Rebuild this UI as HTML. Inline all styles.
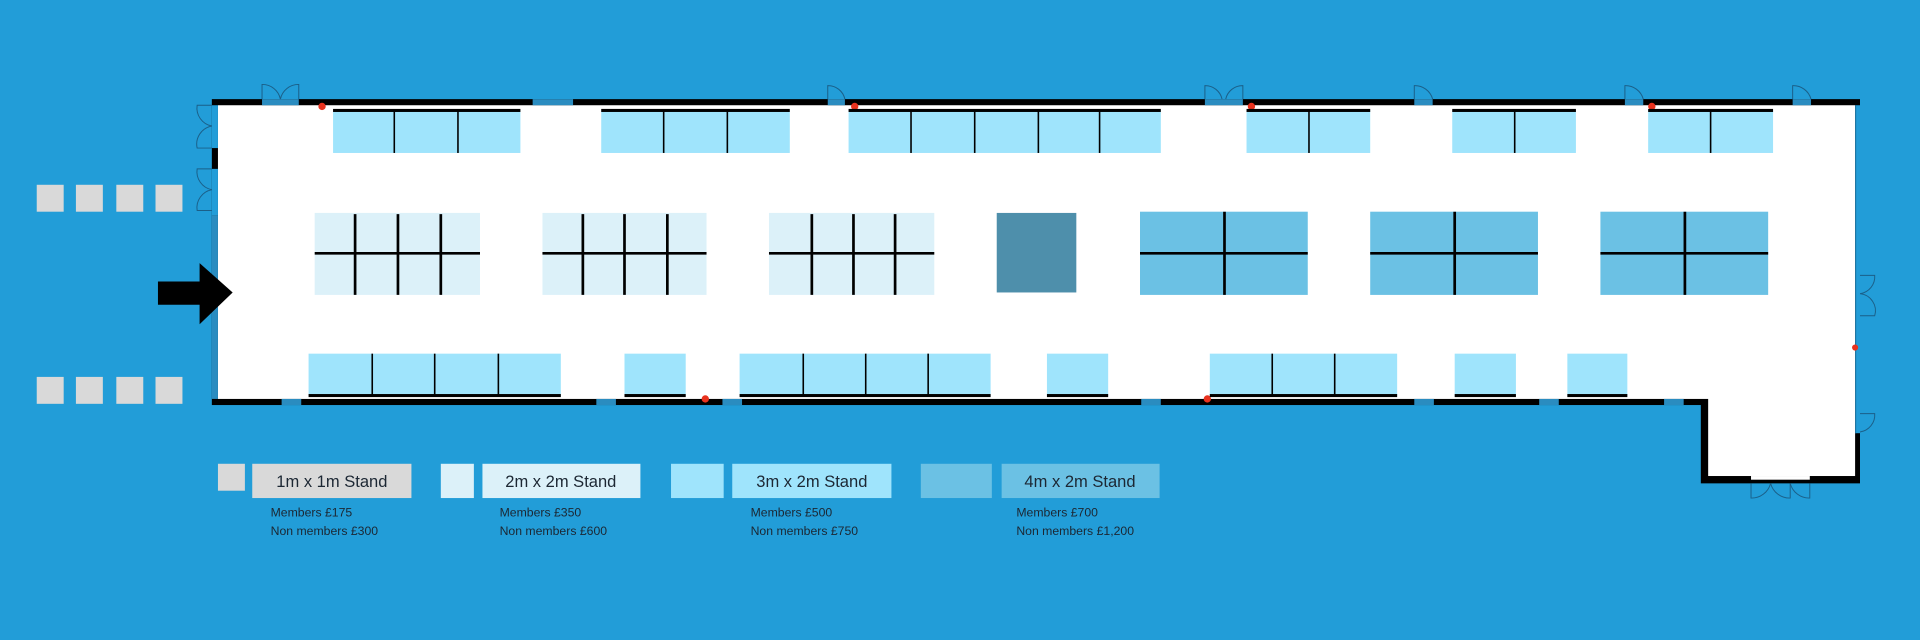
<!DOCTYPE html>
<html><head><meta charset="utf-8"><style>
html,body{margin:0;padding:0;background:#229dd8;}
svg{display:block;}
text{font-family:"Liberation Sans",sans-serif;fill:#1c2733;}
</style></head><body>
<svg width="1920" height="640" viewBox="0 0 1568 523" preserveAspectRatio="none" xmlns="http://www.w3.org/2000/svg">
<rect width="1568" height="523" fill="#229dd8"/>
<g fill="#d9d9d9">
<rect x="30" y="151" width="22" height="22"/><rect x="62" y="151" width="22" height="22"/><rect x="95" y="151" width="22" height="22"/><rect x="127" y="151" width="22" height="22"/>
<rect x="30" y="308" width="22" height="22"/><rect x="62" y="308" width="22" height="22"/><rect x="95" y="308" width="22" height="22"/><rect x="127" y="308" width="22" height="22"/>
</g>
<rect x="173" y="81" width="1346" height="250" fill="#000"/>
<rect x="1389" y="326" width="130" height="69" fill="#000"/>
<rect x="178" y="86" width="1337" height="240" fill="#fff"/>
<rect x="1395" y="320" width="120" height="69" fill="#fff"/>
<rect x="173" y="176" width="5" height="150" fill="#2a8cc0"/>
<rect x="173" y="86" width="5" height="35" fill="#229dd8"/>
<rect x="173" y="138" width="5" height="38" fill="#229dd8"/>
<rect x="1515" y="86" width="4" height="268" fill="#229dd8"/>
<line x1="1515.5" y1="86" x2="1515.5" y2="354" stroke="#1f6f9a" stroke-width="0.7"/>
<g fill="#2a8cc0">
<rect x="214" y="81" width="30" height="5"/><rect x="435" y="81" width="33" height="5"/>
<rect x="676" y="81" width="14" height="5"/><rect x="984" y="81" width="31" height="5"/>
<rect x="1155" y="81" width="15" height="5"/><rect x="1327" y="81" width="15" height="5"/><rect x="1464" y="81" width="15" height="5"/>
<rect x="230" y="326" width="16" height="5"/><rect x="487" y="326" width="16" height="5"/><rect x="590" y="326" width="16" height="5"/>
<rect x="932" y="326" width="16" height="5"/><rect x="1155" y="326" width="16" height="5"/><rect x="1257" y="326" width="16" height="5"/><rect x="1359" y="326" width="16" height="5"/>
</g>
<rect x="1430" y="389" width="48" height="3" fill="#fff"/>
<g fill="none" stroke="#1b5f88" stroke-width="0.8">
<path d="M214,81 V69 A15,15 0 0 1 229,81"/><path d="M244,81 V69 A15,15 0 0 0 229,81"/>
<path d="M676,81 V70 A14,14 0 0 1 690,81"/>
<path d="M984,81 V70 A14,14 0 0 1 998,81"/><path d="M1015,81 V70 A14,14 0 0 0 1001,81"/>
<path d="M1155,81 V70 A15,15 0 0 1 1170,81"/><path d="M1327,81 V70 A15,15 0 0 1 1342,81"/><path d="M1464,81 V70 A15,15 0 0 1 1479,81"/>
<path d="M173,86 H161 A15,15 0 0 0 173,103"/><path d="M173,121 H161 A15,15 0 0 1 173,103"/>
<path d="M173,138 H161 A15,15 0 0 0 173,155"/><path d="M173,172 H161 A15,15 0 0 1 173,155"/>
<path d="M1519,225 H1531 A14,14 0 0 1 1519,240"/><path d="M1519,258 H1531 A14,14 0 0 0 1519,240"/>
<path d="M1519,338 H1531 A14,14 0 0 1 1519,353"/>
<path d="M1430,395 V407 A16,16 0 0 0 1446,395"/><path d="M1462,395 V407 A16,16 0 0 1 1446,395"/><path d="M1478,395 V407 A16,16 0 0 1 1462,395"/>
</g>
<g fill="#e8321e">
<circle cx="263" cy="87" r="3"/><circle cx="698" cy="87" r="3"/><circle cx="1022" cy="87" r="3"/><circle cx="1349" cy="87" r="3"/>
<circle cx="576" cy="326" r="3"/><circle cx="986" cy="326" r="3"/><circle cx="1515" cy="284" r="2.5"/>
</g>
<g fill="#9fe4fc">
<rect x="272" y="90" width="153" height="35"/><rect x="491" y="90" width="154" height="35"/><rect x="693" y="90" width="255" height="35"/>
<rect x="1018" y="90" width="101" height="35"/><rect x="1186" y="90" width="101" height="35"/><rect x="1346" y="90" width="102" height="35"/>
</g>
<g fill="#000">
<rect x="272" y="89" width="153" height="2.5"/><rect x="491" y="89" width="154" height="2.5"/><rect x="693" y="89" width="255" height="2.5"/>
<rect x="1018" y="89" width="101" height="2.5"/><rect x="1186" y="89" width="101" height="2.5"/><rect x="1346" y="89" width="102" height="2.5"/>
</g>
<g stroke="#000" stroke-width="1.3">
<line x1="322" y1="90" x2="322" y2="125"/><line x1="374" y1="90" x2="374" y2="125"/>
<line x1="542" y1="90" x2="542" y2="125"/><line x1="594" y1="90" x2="594" y2="125"/>
<line x1="744" y1="90" x2="744" y2="125"/><line x1="796" y1="90" x2="796" y2="125"/><line x1="848" y1="90" x2="848" y2="125"/><line x1="898" y1="90" x2="898" y2="125"/>
<line x1="1069" y1="90" x2="1069" y2="125"/><line x1="1237" y1="90" x2="1237" y2="125"/><line x1="1397" y1="90" x2="1397" y2="125"/>
</g>
<g fill="#dcf1f9">
<rect x="257" y="174" width="135" height="67"/><rect x="443" y="174" width="134" height="67"/><rect x="628" y="174" width="135" height="67"/>
</g>
<rect x="814" y="174" width="65" height="65" fill="#4e8fab"/>
<g fill="#6bc1e4">
<rect x="931" y="173" width="137" height="68"/><rect x="1119" y="173" width="137" height="68"/><rect x="1307" y="173" width="137" height="68"/>
</g>
<g stroke="#000" stroke-width="2.2">
<line x1="257" y1="207" x2="392" y2="207"/><line x1="290" y1="175" x2="290" y2="241"/><line x1="325" y1="175" x2="325" y2="241"/><line x1="360" y1="175" x2="360" y2="241"/>
<line x1="443" y1="207" x2="577" y2="207"/><line x1="476" y1="175" x2="476" y2="241"/><line x1="510" y1="175" x2="510" y2="241"/><line x1="545" y1="175" x2="545" y2="241"/>
<line x1="628" y1="207" x2="763" y2="207"/><line x1="663" y1="175" x2="663" y2="241"/><line x1="697" y1="175" x2="697" y2="241"/><line x1="731" y1="175" x2="731" y2="241"/>
<line x1="931" y1="207" x2="1068" y2="207"/><line x1="1000" y1="173" x2="1000" y2="241"/>
<line x1="1119" y1="207" x2="1256" y2="207"/><line x1="1188" y1="173" x2="1188" y2="241"/>
<line x1="1307" y1="207" x2="1444" y2="207"/><line x1="1376" y1="173" x2="1376" y2="241"/>
</g>
<g fill="#9fe4fc">
<rect x="252" y="289" width="206" height="35"/><rect x="510" y="289" width="50" height="35"/><rect x="604" y="289" width="205" height="35"/>
<rect x="855" y="289" width="50" height="35"/><rect x="988" y="289" width="153" height="35"/><rect x="1188" y="289" width="50" height="35"/><rect x="1280" y="289" width="49" height="35"/>
</g>
<g fill="#000">
<rect x="252" y="322" width="206" height="2.5"/><rect x="510" y="322" width="50" height="2.5"/><rect x="604" y="322" width="205" height="2.5"/>
<rect x="855" y="322" width="50" height="2.5"/><rect x="988" y="322" width="153" height="2.5"/><rect x="1188" y="322" width="50" height="2.5"/><rect x="1280" y="322" width="49" height="2.5"/>
</g>
<g stroke="#000" stroke-width="1.3">
<line x1="304" y1="289" x2="304" y2="323"/><line x1="355" y1="289" x2="355" y2="323"/><line x1="407" y1="289" x2="407" y2="323"/>
<line x1="656" y1="289" x2="656" y2="323"/><line x1="707" y1="289" x2="707" y2="323"/><line x1="758" y1="289" x2="758" y2="323"/>
<line x1="1039" y1="289" x2="1039" y2="323"/><line x1="1090" y1="289" x2="1090" y2="323"/>
</g>
<!-- arrow on top -->
<polygon points="129,230 163,230 163,215 190,239 163,265 163,249 129,249" fill="#000"/>
<rect x="178" y="379" width="22" height="22" fill="#d9d9d9"/>
<rect x="206" y="379" width="130" height="28" fill="#d9d9d9"/>
<rect x="360" y="379" width="27" height="28" fill="#dcf1f9"/>
<rect x="394" y="379" width="129" height="28" fill="#dcf1f9"/>
<rect x="548" y="379" width="43" height="28" fill="#9fe4fc"/>
<rect x="598" y="379" width="130" height="28" fill="#9fe4fc"/>
<rect x="752" y="379" width="58" height="28" fill="#6bc1e4"/>
<rect x="818" y="379" width="129" height="28" fill="#6bc1e4"/>
<g font-size="13.5" text-anchor="middle">
<text x="271" y="398">1m x 1m Stand</text>
<text x="458" y="398">2m x 2m Stand</text>
<text x="663" y="398">3m x 2m Stand</text>
<text x="882" y="398">4m x 2m Stand</text>
</g>
<g font-size="10">
<text x="221" y="422">Members £175</text><text x="221" y="437">Non members £300</text>
<text x="408" y="422">Members £350</text><text x="408" y="437">Non members £600</text>
<text x="613" y="422">Members £500</text><text x="613" y="437">Non members £750</text>
<text x="830" y="422">Members £700</text><text x="830" y="437">Non members £1,200</text>
</g>
</svg>
</body></html>
